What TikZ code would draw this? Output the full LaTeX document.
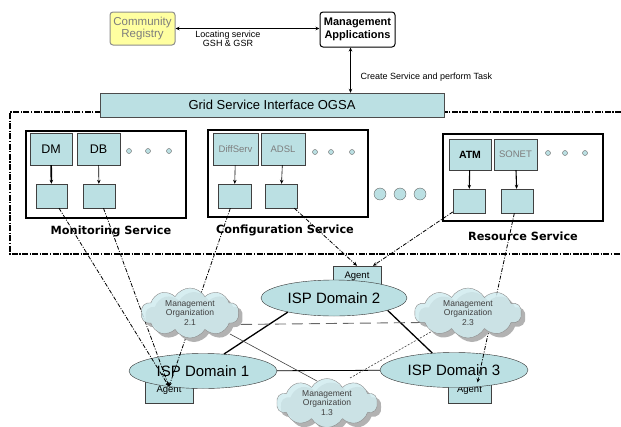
\documentclass[tikz,border=0pt]{standalone}
\usepackage{fontspec}
\setmainfont{Liberation Sans}
\newfontfamily\svcfont{DejaVu Sans}
\usetikzlibrary{arrows.meta,shapes.geometric,shapes.symbols,shadows}

\definecolor{gridblue}{RGB}{187,224,227}
\definecolor{cloudblue}{RGB}{208,235,239}
\definecolor{regyellow}{RGB}{255,255,160}
\definecolor{softgray}{RGB}{125,125,125}

\tikzset{
  topbox/.style={draw=black,line width=1pt,rounded corners=3pt,align=center,inner sep=0pt},
  svcbox/.style={draw=black,line width=1.4pt,fill=white,minimum width=160pt,minimum height=87pt},
  modbox/.style={draw=black!75,fill=gridblue,inner sep=0pt,minimum height=32pt},
  portbox/.style={draw=black!75,fill=gridblue,inner sep=0pt,minimum height=24pt},
  svclabel/.style={font=\svcfont\bfseries\fontsize{11.3}{13}\selectfont},
  minidot/.style={circle,draw=black!60,fill=gridblue,inner sep=0pt,minimum size=5pt},
  bigdot/.style={circle,draw=black!60,fill=gridblue,inner sep=0pt,minimum size=12pt},
  ispdomain/.style={ellipse,draw=black!80,fill=gridblue,inner sep=0pt,minimum width=148pt,minimum height=35pt,font=\fontsize{15}{17}\selectfont},
  agentbox/.style={draw=black!75,fill=gridblue,inner sep=0pt,minimum width=48pt,font=\fontsize{9.5}{11}\selectfont},
  mgmtorg/.style={cloud,cloud puffs=10,cloud puff arc=120,aspect=2,draw=black!45,fill=cloudblue,
    fill opacity=0.85,inner sep=0pt,minimum width=100pt,minimum height=50pt,
    drop shadow={shadow xshift=4pt,shadow yshift=-4pt,fill=gray!60,opacity=1}},
  orgtext/.style={align=center,font=\fontsize{8.5}{9.7}\selectfont,text=black!75},
  dashdot/.style={dash pattern=on 4pt off 1.5pt on 1pt off 1.5pt},
  framedash/.style={dash pattern=on 6pt off 1.5pt on 1.2pt off 1.5pt},
  toagent/.style={dashdot,line width=0.8pt,-{Stealth[length=4pt,width=3.5pt]}},
  down/.style={-{Stealth[length=4pt,width=3.5pt]}},
}

\begin{document}
\begin{tikzpicture}[x=1pt,y=-1pt]
  \useasboundingbox (0,0) rectangle (621,426);

  % dash-dot frame round the services, OGSA bar sits on its top edge
  \draw[framedash,line width=1.1pt] (621,112) -- (10,112) -- (10,254) -- (621,254);
  \node[draw=black!70,fill=gridblue,minimum width=344pt,minimum height=24pt,inner sep=0pt,
        font=\fontsize{13}{15}\selectfont] (ogsa) at (272,105) {Grid Service Interface OGSA};

  % registry and management applications
  \node[topbox,draw=black!45,fill=regyellow,text=softgray,minimum width=65pt,minimum height=33pt,
        font=\fontsize{11.5}{12.5}\selectfont] (reg) at (142.5,28.5) {Community\\Registry};
  \node[topbox,fill=white,minimum width=75pt,minimum height=35pt,
        font=\bfseries\fontsize{11}{12.5}\selectfont] (mgmt) at (357.5,29.5) {Management\\Applications};
  \draw[{Stealth[length=4pt,width=3.5pt]}-{Stealth[length=4pt,width=3.5pt]},line width=0.8pt]
    (reg.east) -- (reg.east -| mgmt.west);
  \node[align=center,font=\fontsize{9}{8.5}\selectfont] (locate) at (228,39) {Locating service\\GSH \& GSR};
  \draw[{Stealth[length=4pt,width=3.5pt]}-{Stealth[length=4pt,width=3.5pt]},line width=1pt]
    ([xshift=-7pt]mgmt.south) -- ([xshift=-7pt]mgmt.south |- ogsa.north);
  \node[anchor=west,font=\fontsize{9}{11}\selectfont] (task) at (357,77) {Create Service and perform Task};

  % monitoring service
  \node[svcbox] (mon) at (106,174.5) {};
  \node[modbox,minimum width=42pt,font=\fontsize{12.5}{14}\selectfont] (dm) at (51,149) {DM};
  \node[modbox,minimum width=43pt,font=\fontsize{12.5}{14}\selectfont] (db) at (98.5,149) {DB};
  \node[portbox,minimum width=31pt] (m1) at (51.5,196) {};
  \node[portbox,minimum width=32pt] (m2) at (99,196) {};
  \draw[down,line width=1.6pt] (dm) -- (m1);
  \draw[down,line width=0.6pt] (db) -- (m2);
  \foreach \x in {129,148,169} \node[minidot] at (\x,151) {};
  \node[svclabel] (monlbl) at (111,231) {Monitoring Service};

  % configuration service
  \node[svcbox] (conf) at (288,173.5) {};
  \node[modbox,minimum width=45pt,text=softgray,font=\fontsize{9.5}{11}\selectfont] (diffserv) at (235.5,149) {DiffServ};
  \node[modbox,minimum width=44pt,text=softgray,font=\fontsize{9.5}{11}\selectfont] (adsl) at (283,149) {ADSL};
  \node[portbox,minimum width=33pt] (c1) at (234.5,196) {};
  \node[portbox,minimum width=32pt] (c2) at (281,196) {};
  \draw[down,line width=0.6pt] (diffserv) -- (c1);
  \draw[down,line width=0.6pt] (adsl) -- (c2);
  \foreach \x in {315,331,352} \node[minidot] at (\x,152) {};
  \node[svclabel] (conflbl) at (285,230) {Configuration Service};

  \foreach \x in {380,400,420} \node[bigdot] at (\x,194) {};

  % resource service
  \node[svcbox] (res) at (523,177.5) {};
  \node[modbox,minimum width=42pt,minimum height=31pt,font=\bfseries\fontsize{10.5}{12}\selectfont] (atm) at (470,154.5) {ATM};
  \node[modbox,minimum width=43pt,minimum height=31pt,text=softgray,font=\fontsize{9.5}{11}\selectfont] (sonet) at (515.5,154.5) {SONET};
  \node[portbox,minimum width=32pt] (r1) at (469,201) {};
  \node[portbox,minimum width=32pt] (r2) at (517,201) {};
  \draw[down,line width=1.1pt] (atm) -- (r1);
  \draw[down,line width=1.1pt] (sonet) -- (r2);
  \foreach \x in {548,565,585} \node[minidot] at (\x,153) {};
  \node[svclabel] (reslbl) at (523,236) {Resource Service};

  % ISP domains with their agents
  \node[agentbox,minimum height=20pt] (ag2) at (357,276) {Agent};
  \node[agentbox,minimum height=25pt] (ag1) at (169,390.5) {Agent};
  \node[agentbox,minimum height=25pt,minimum width=43pt] (ag3) at (469.5,390.5) {Agent};
  \node[ispdomain,minimum width=146pt,minimum height=36pt] (isp2) at (334,298) {ISP Domain 2};
  \node[ispdomain] (isp1) at (203,371) {ISP Domain 1};
  \node[ispdomain] (isp3) at (454,370) {ISP Domain 3};
  \draw[line width=1.3pt] (isp1.39) -- (isp2.197);
  \draw[line width=1.3pt] (isp2.347) -- (isp3.142);
  \draw[line width=0.8pt] (isp1) -- (isp3);

  % management organizations (placed first so links can find them)
  \path (190,313) coordinate (c21) (468,313) coordinate (c23) (327,403) coordinate (c13);

  % links between organizations
  \draw[black!60,line width=0.9pt,dash pattern=on 11pt off 6pt] ([yshift=-12pt]c21) -- ([yshift=-9pt]c23);
  \draw[black!75,line width=0.6pt] ([shift={(40pt,-21pt)}]c21) -- ([shift={(-10pt,22pt)}]c13);
  \draw[black!75,line width=0.6pt,dash pattern=on 2pt off 1.5pt] ([shift={(23pt,25pt)}]c13) -- ([shift={(-25pt,-12pt)}]c23);

  % service ports down to the agents
  \draw[toagent] (m1) -- ([yshift=4pt]ag1.center);
  \draw[toagent] (m2) -- ([yshift=4pt]ag1.center);
  \draw[toagent] (c1) -- ([yshift=4pt]ag1.center);
  \draw[toagent] (c2) -- (ag2.north);
  \draw[toagent] (r1) -- ([xshift=16pt]ag2.north);
  \draw[toagent] (r2) -- ([shift={(8pt,8pt)}]ag3.center);

  % clouds on top, lines show faintly through them
  \node[mgmtorg,minimum width=98pt] (org21) at (c21) {};
  \node[mgmtorg,minimum width=107pt] (org23) at (c23) {};
  \node[mgmtorg,minimum width=101pt,minimum height=49pt] (org13) at (c13) {};
  \node[orgtext] (org21txt) at (org21) {Management\\Organization\\2.1};
  \node[orgtext] (org23txt) at (org23) {Management\\Organization\\2.3};
  \node[orgtext] (org13txt) at (org13) {Management\\Organization\\1.3};
\end{tikzpicture}
\end{document}
